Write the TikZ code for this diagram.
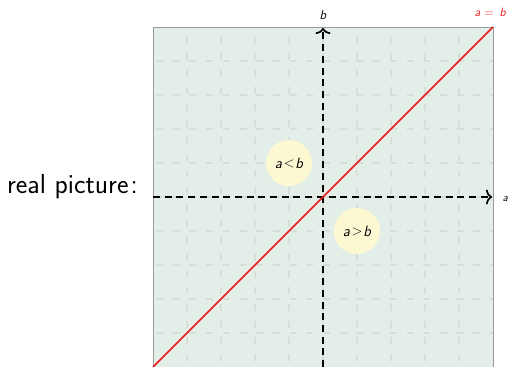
\documentclass[tikz,border=0pt]{standalone}
\usetikzlibrary{arrows.meta}
\definecolor{bgc}{RGB}{227,238,232}
\definecolor{gridc}{RGB}{215,222,217}
\definecolor{framec}{RGB}{155,155,155}
\definecolor{circc}{RGB}{252,248,210}
\definecolor{redc}{RGB}{235,25,25}
\begin{document}
\begin{tikzpicture}[x=1pt,y=-1pt,
  gridline/.style={gridc,line width=1.3pt,dash pattern=on 7pt off 9.7pt},
  axisline/.style={black,line width=1.7pt,dash pattern=on 7pt off 4.7pt,
    -{To[length=6pt,width=15pt]}},
  regionlbl/.style={circle,fill=circc,minimum size=46pt,inner sep=0pt,
    font=\sffamily\fontsize{15}{17}\selectfont\slshape},
  axislbl/.style={font=\sffamily\fontsize{13}{15}\selectfont\slshape,inner sep=0pt}]
\useasboundingbox (0,0) rectangle (512,367);
\fill[bgc] (153,27) rectangle (493,367);
\foreach \k in {0,...,8}{
  \draw[gridline,dash phase=7pt] (187+34*\k,27) -- (187+34*\k,367);
  \draw[gridline,dash phase=13.7pt] (153,61+34*\k) -- (493,61+34*\k);
}
\draw[framec,line width=1pt] (153,367) -- (153,27) -- (493,27) -- (493,367);
\node[regionlbl] (lt) at (289,163) {a\kern1.5pt\raisebox{0.3pt}{$<$}\kern1pt b};
\node[regionlbl] (gt) at (357,231) {a\kern1.5pt\raisebox{0.3pt}{$>$}\kern1pt b};
\coordinate (ybot) at (323,367);
\coordinate (ytop) at (323,28);
\coordinate (xl) at (153,197);
\coordinate (xr) at (492,197);
\coordinate (dl) at (153,367);
\coordinate (dr) at (493,27);
\draw[axisline] (ybot) -- (ytop);
\draw[axisline] (xl) -- (xr);
\draw[redc,line width=1.5pt] (dl) -- (dr);
\node[axislbl,anchor=base] (blbl) at (323,19) {b};
\node[axislbl,font=\sffamily\fontsize{11}{13}\selectfont\slshape,anchor=base west] (albl) at (502.5,201) {a};
\node[axislbl,text=redc,font=\sffamily\fontsize{12}{14}\selectfont,anchor=base west] (eqlbl) at (474.5,16)
  {\textsl{a}\hspace{4pt}=\hspace{6pt}\textsl{b}};
\node[anchor=base west,inner sep=0pt,font=\sffamily\fontsize{27.5}{32}\selectfont] (title) at (7,193) {real picture\kern2pt:};
\end{tikzpicture}
\end{document}
